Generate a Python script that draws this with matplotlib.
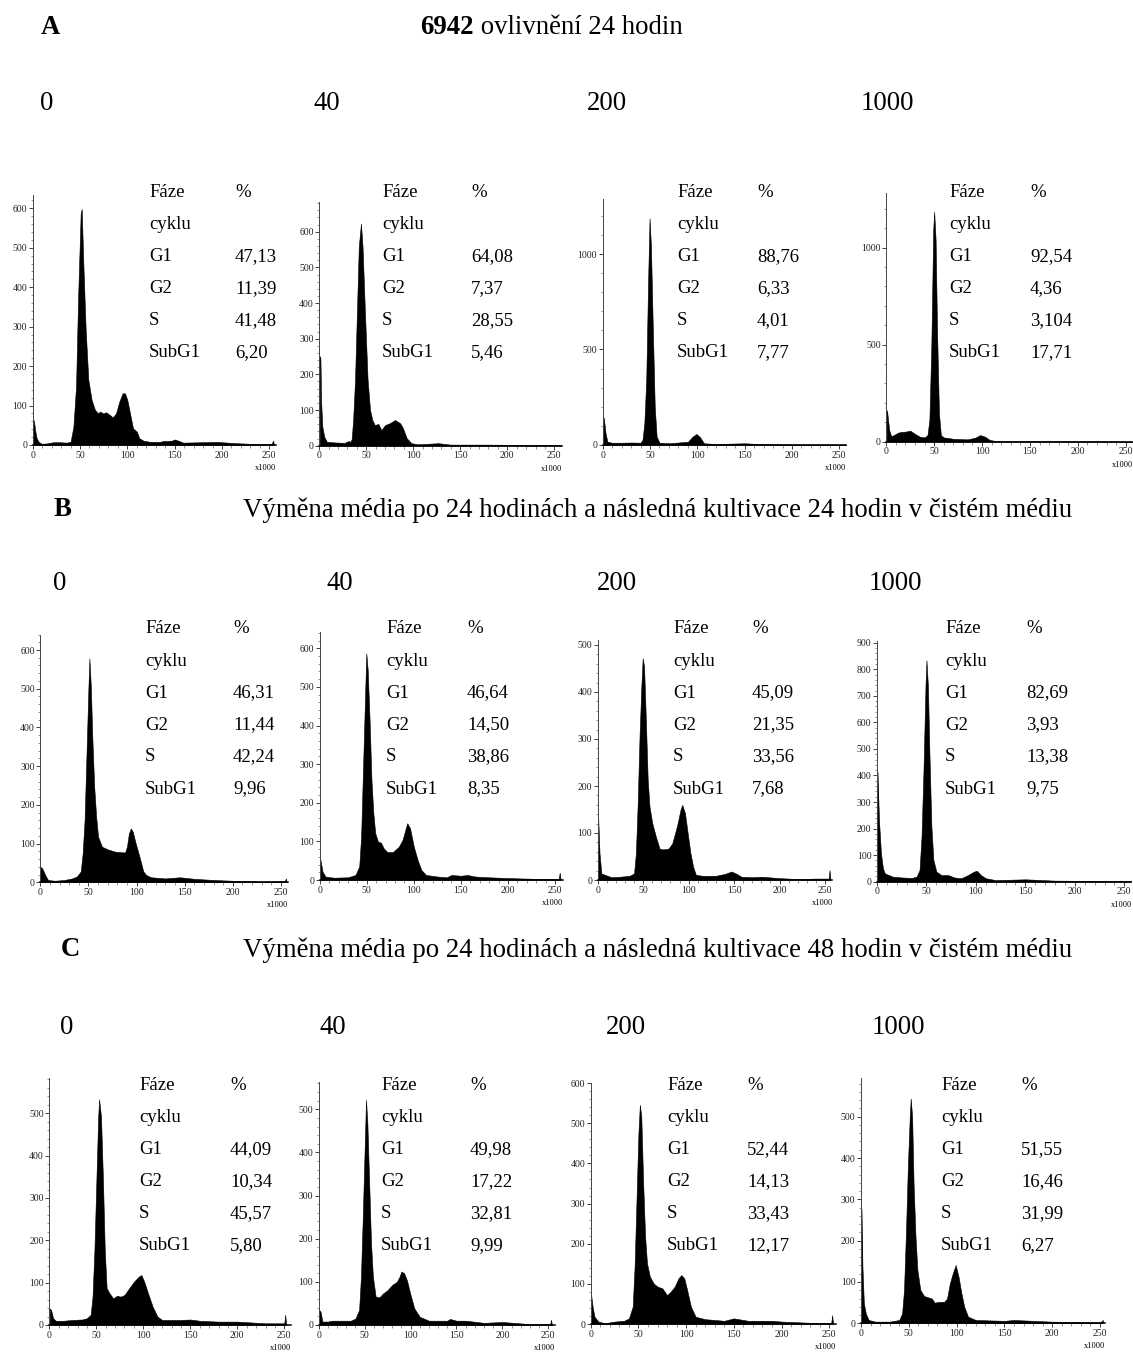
import matplotlib
matplotlib.use('Agg')
import matplotlib.pyplot as plt
from matplotlib.ticker import MultipleLocator

plt.rcParams['font.family'] = ['Liberation Serif', 'DejaVu Serif']

# ---- data (DNA content x1000, counts) ----
a1_x = [0, 1.4, 2.8, 4.2, 6.3, 9.5, 14.8, 21.8, 29, 36, 40, 43, 45.8, 48, 50.7, 51.8, 53.5, 56, 58.8, 62.3,
        65.8, 69.4, 71, 74.6, 77.5, 81.7, 84.5, 88, 91.5, 95, 97.5, 100, 103.5, 106, 110, 112.7, 117, 124,
        134.5, 138, 147, 150, 154, 159, 177, 194, 212, 230, 247, 252.5, 254, 255]
a1_y = [70, 59, 34, 17, 8, 3, 4, 7, 7, 6, 8, 46, 148, 376, 587, 598, 460, 291, 165, 114,
        89, 80, 85, 80, 83, 76, 70, 80, 110, 131, 131, 114, 72, 42, 34, 17, 11, 8,
        8, 10, 11, 14, 11, 6, 7, 8, 5, 3, 2, 3, 11, 0]

a2_x = [0.4, 1.2, 2.0, 3.2, 5.3, 8, 17, 27, 31, 33, 34.4, 36, 38, 40, 42, 44.3, 46, 48.6, 51.4, 54, 56.4,
        59, 62.8, 66, 70, 75, 80.5, 86, 89, 93, 98, 105, 126.6, 140, 180, 220, 257]
a2_y = [251, 245, 120, 53, 25, 11, 9, 8, 13, 11, 18, 72, 184, 371, 558, 623, 558, 371, 184, 100, 72,
        58, 61, 44, 58, 63, 72, 63, 49, 21, 7, 4, 7, 3, 3, 2, 2]

a3_x = [0.3, 1.2, 3, 5, 10, 20, 30, 40, 42, 44, 46, 48, 49.5, 51, 53, 55, 57, 60, 70, 90, 95, 99, 103,
        107, 120, 150, 170, 200, 257]
a3_y = [148, 140, 61, 17, 12, 12, 13, 12, 26, 113, 340, 864, 1187, 1038, 602, 200, 44, 12, 9, 17, 44, 58, 40,
        9, 5, 9, 4, 3, 2]

a4_x = [0.3, 1, 3, 5, 8, 12, 15, 20, 25, 30, 35, 40, 43, 45, 47, 49, 50, 51.5, 53, 55, 57, 60, 70, 85,
        93, 98, 103, 108, 115, 150, 257]
a4_y = [163, 150, 60, 29, 34, 46, 50, 52, 57, 40, 26, 22, 34, 112, 490, 1091, 1186, 1040, 576, 146, 34, 22, 15, 12,
        21, 34, 26, 9, 3, 3, 1]

b1_x = [0, 2, 5, 8, 15, 25, 33, 38, 42, 44, 46, 48, 50, 51, 52.5, 54, 56, 58, 60, 64, 70, 78, 88, 90, 92,
        94, 96, 99, 103, 107, 110, 115, 130, 145, 160, 180, 200, 230, 254, 255, 256]
b1_y = [40, 36, 19, 6, 4, 6, 10, 15, 28, 75, 161, 333, 505, 578, 505, 376, 247, 170, 118, 92, 85, 79, 77, 92, 126,
        139, 131, 101, 66, 28, 19, 13, 10, 13, 9, 6, 4, 2, 3, 10, 0]

b2_x = [0.5, 3, 6, 15, 30, 38, 42, 44, 46, 48, 49.5, 51, 53, 55, 57, 59, 62, 65, 68, 72, 78, 84, 88, 91,
        93, 96, 100, 104, 108, 113, 125, 135, 140, 150, 157, 165, 180, 200, 230, 254, 255, 256]
b2_y = [56, 22, 9, 6, 7, 13, 35, 112, 285, 458, 587, 544, 415, 259, 173, 121, 99, 97, 82, 72, 73, 86, 104, 130,
        147, 134, 86, 52, 26, 13, 9, 7, 13, 11, 13, 9, 7, 5, 3, 3, 19, 0]

b3_x = [0.5, 2, 4, 8, 15, 25, 35, 40, 42, 44, 46, 48, 49.5, 51, 53, 55, 57, 60, 64, 68, 72, 78, 82, 86,
        88, 91, 93, 96, 99, 102, 105, 108, 115, 130, 140, 147, 152, 158, 170, 180, 200, 220, 240, 254, 255, 256]
b3_y = [135, 57, 14, 11, 6, 7, 9, 14, 57, 163, 305, 411, 472, 454, 340, 213, 156, 121, 92, 67, 65, 67, 78, 106,
        121, 149, 160, 142, 99, 57, 28, 11, 9, 9, 13, 18, 14, 7, 6, 7, 4, 2, 3, 3, 21, 0]

b4_x = [0.5, 2, 4, 6, 8, 12, 16, 25, 35, 40, 43, 45, 47, 49, 50, 51.5, 53, 55, 57, 60, 65, 72, 78, 85,
        92, 98, 101, 105, 110, 120, 150, 180, 257]
b4_y = [414, 232, 107, 50, 31, 25, 19, 16, 14, 19, 44, 169, 420, 734, 834, 734, 483, 207, 82, 38, 25, 25, 16, 13,
        25, 38, 41, 25, 13, 6, 9, 4, 2]

c1_x = [0.5, 2, 4, 7, 15, 25, 35, 40, 44, 46, 48, 50, 52, 53, 55, 57, 59, 61, 64, 68, 72, 76, 80, 85, 90,
        95, 98, 101, 105, 110, 115, 120, 140, 150, 160, 180, 200, 230, 250, 251, 252]
c1_y = [39, 35, 16, 10, 10, 12, 13, 16, 24, 67, 177, 335, 492, 533, 492, 350, 177, 87, 75, 63, 69, 67, 71, 87, 102,
        114, 118, 102, 75, 43, 20, 12, 12, 13, 10, 8, 8, 4, 4, 24, 0]

c2_x = [0.5, 2, 4, 10, 15, 25, 35, 40, 44, 46, 48, 50, 51.5, 53, 55, 57, 59, 62, 66, 70, 75, 80, 85, 88,
        90, 93, 96, 100, 104, 110, 120, 140, 143, 150, 160, 180, 200, 230, 252, 253, 254]
c2_y = [35, 31, 8, 8, 10, 10, 10, 15, 35, 112, 251, 406, 522, 468, 328, 189, 112, 66, 64, 73, 81, 93, 100, 112,
        124, 120, 104, 70, 39, 19, 10, 10, 14, 10, 10, 5, 7, 2, 2, 12, 0]

c3_x = [0.5, 2, 4, 8, 15, 25, 35, 40, 44, 46, 48, 50, 51.5, 53, 55, 57, 59, 62, 66, 70, 75, 80, 84, 88,
        92, 95, 98, 101, 105, 110, 120, 140, 150, 155, 165, 190, 200, 230, 252, 253, 254]
c3_y = [72, 43, 18, 6, 2, 6, 8, 14, 43, 143, 309, 475, 546, 517, 350, 218, 151, 118, 101, 93, 89, 72, 81, 93,
        114, 122, 114, 85, 43, 18, 12, 8, 14, 12, 8, 8, 6, 3, 3, 22, 0]

c4_x = [0.5, 1.5, 3, 5, 8, 15, 30, 40, 43, 45, 47, 49, 51, 52, 53.5, 55, 57, 59, 62, 66, 70, 74, 77, 82,
        87, 90, 93, 96, 99, 102, 105, 108, 112, 120, 150, 160, 200, 250, 253]
c4_y = [278, 137, 48, 24, 8, 4, 4, 8, 24, 81, 218, 379, 500, 544, 500, 339, 210, 129, 81, 66, 63, 60, 50, 52,
        52, 60, 97, 121, 141, 113, 73, 40, 16, 8, 6, 8, 4, 2, 8]

# cell cycle phase table
phase_rows = ['G1', 'G2', 'S', 'SubG1']
a_values = [['47,13', '11,39', '41,48', '6,20'], ['64,08', '7,37', '28,55', '5,46'],
            ['88,76', '6,33', '4,01', '7,77'], ['92,54', '4,36', '3,104', '17,71']]
b_values = [['46,31', '11,44', '42,24', '9,96'], ['46,64', '14,50', '38,86', '8,35'],
            ['45,09', '21,35', '33,56', '7,68'], ['82,69', '3,93', '13,38', '9,75']]
c_values = [['44,09', '10,34', '45,57', '5,80'], ['49,98', '17,22', '32,81', '9,99'],
            ['52,44', '14,13', '33,43', '12,17'], ['51,55', '16,46', '31,99', '6,27']]
doses = ['0', '40', '200', '1000']

row_letters = ['A', 'B', 'C']
title_a_bold = '6942'
title_a = ' ovlivnění 24 hodin'
title_b = 'Výměna média po 24 hodinách a následná kultivace 24 hodin v čistém médiu'
title_c = 'Výměna média po 24 hodinách a následná kultivace 48 hodin v čistém médiu'

# ---- layout in pixels ----
W, H = 1133, 1353
fig = plt.figure(figsize=(W / 100, H / 100), dpi=100)

# x0 px, x250 px, xmax, y0 px, yref px, yref value, ymax, major, minor
axes_px = [
    (32.7, 269.3, 257, 445.0, 208.3, 600, 634, 100, 20),
    (319.3, 554.3, 258, 445.7, 231.7, 600, 684, 100, 20),
    (602.7, 839.3, 257, 445.0, 254.0, 1000, 1290, 500, 100),
    (886.3, 1125.7, 257, 441.7, 247.7, 1000, 1280, 500, 100),
    (40.3, 281.0, 257, 882.3, 650.0, 600, 640, 100, 20),
    (319.7, 555.0, 258, 880.0, 648.3, 600, 643, 100, 20),
    (597.7, 825.0, 258, 880.0, 645.0, 500, 510, 100, 20),
    (877.0, 1124.3, 257, 881.7, 642.7, 900, 905, 100, 20),
    (49.3, 284.3, 257, 1325.0, 1113.3, 500, 583, 100, 20),
    (318.7, 548.3, 257, 1325.0, 1109.3, 500, 564, 100, 20),
    (590.7, 829.3, 257, 1324.0, 1123.3, 500, 600, 100, 20),
    (861.0, 1100.0, 255, 1323.3, 1116.7, 500, 593, 100, 20),
]
hists = [(a1_x, a1_y), (a2_x, a2_y), (a3_x, a3_y), (a4_x, a4_y),
         (b1_x, b1_y), (b2_x, b2_y), (b3_x, b3_y), (b4_x, b4_y),
         (c1_x, c1_y), (c2_x, c2_y), (c3_x, c3_y), (c4_x, c4_y)]

for (hx, hy), (x0, x250, xmax, y0, yr, yv, ymax, major, minor) in zip(hists, axes_px):
    xs = (x250 - x0) / 250
    ys = (y0 - yr) / yv
    right = x0 + xmax * xs
    top = y0 - ymax * ys
    ax = fig.add_axes([x0 / W, 1 - y0 / H, (right - x0) / W, (y0 - top) / H])
    ax.fill_between(hx, hy, 0, color='black', linewidth=0.4, edgecolor='black')
    ax.set_xlim(0, xmax)
    ax.set_ylim(0, ymax)
    ax.set_facecolor('none')
    ax.xaxis.set_major_locator(MultipleLocator(50))
    ax.xaxis.set_minor_locator(MultipleLocator(10))
    ax.yaxis.set_major_locator(MultipleLocator(major))
    ax.yaxis.set_minor_locator(MultipleLocator(minor))
    for s in ['top', 'right']:
        ax.spines[s].set_visible(False)
    ax.spines['left'].set_linewidth(0.7)
    ax.spines['left'].set_color('#444444')
    ax.spines['bottom'].set_linewidth(1.1)
    ax.tick_params(which='major', length=3, width=0.6, labelsize=7, pad=1, colors='#222222')
    ax.tick_params(which='minor', length=1.8, width=0.5, colors='#666666')
    ax.annotate('x1000', xy=(1, 0), xycoords='axes fraction', xytext=(-10, -23),
                textcoords='offset pixels', ha='center', va='center', fontsize=6)


def ftext(x, y, s, **kw):
    return fig.text(x / W, 1 - y / H, s, va='center', **kw)


TS = 19.3
# row headings
ftext(50, 27, row_letters[0], ha='center', fontsize=TS, fontweight='bold')
t = ftext(420, 27, title_a_bold, ha='left', fontsize=TS, fontweight='bold')
bb = t.get_window_extent(renderer=fig.canvas.get_renderer())
ftext(bb.x1, 27, title_a, ha='left', fontsize=TS)
ftext(62, 510, row_letters[1], ha='center', fontsize=TS, fontweight='bold')
ftext(243, 510, title_b, ha='left', fontsize=TS)
ftext(70, 950, row_letters[2], ha='center', fontsize=TS, fontweight='bold')
ftext(243, 950, title_c, ha='left', fontsize=TS)

dose_x = [[47, 327, 607, 887], [60, 340, 617, 895], [67, 333, 626, 898]]
dose_y = [103, 583, 1027]
for rx, ry in zip(dose_x, dose_y):
    for d, xx in zip(doses, rx):
        ftext(xx, ry, d, ha='center', fontsize=TS)

# phase tables
col1 = [[149, 382, 677, 949], [145, 386, 673, 945], [139, 381, 667, 941]]
col2 = [[235, 471, 757, 1030], [233, 467, 752, 1026], [230, 470, 747, 1021]]
row_y0 = [192.5, 629, 1086]
for vals, c1, c2, y0 in zip([a_values, b_values, c_values], col1, col2, row_y0):
    for v, xa, xb in zip(vals, c1, c2):
        left = ['Fáze', 'cyklu'] + phase_rows
        rightc = ['%', ''] + v
        for i, (l, r) in enumerate(zip(left, rightc)):
            ftext(xa, y0 + 32 * i, l, ha='left', fontsize=13.5)
            ftext(xb, y0 + 32 * i, r, ha='left', fontsize=13.5)

fig.savefig('out.png', dpi=100)
